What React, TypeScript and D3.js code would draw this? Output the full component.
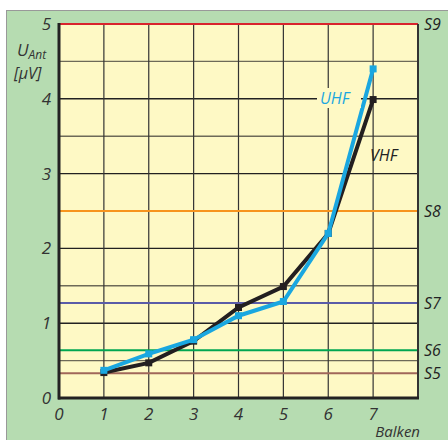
import React from "react";
import * as d3 from "d3";

const xTicks = [0, 1, 2, 3, 4, 5, 6, 7];
const yTicks = [0, 1, 2, 3, 4, 5];
const xVals = [1, 2, 3, 4, 5, 6, 7];
const vhf = [0.34, 0.47, 0.76, 1.21, 1.49, 2.2, 3.99];
const uhf = [0.37, 0.59, 0.78, 1.1, 1.29, 2.2, 4.4];
const sLabels = ["S9", "S8", "S7", "S6", "S5"];
const sValues = [5, 2.5, 1.27, 0.64, 0.33];
const sColors = ["#d9232d", "#f7941d", "#5a5ca8", "#00a651", "#a0675a"];

const W = 448, H = 440;
const L = 59, R = 418, T = 24, B = 398;

export default function App() {
  const x = d3.scaleLinear().domain([0, 8]).range([L, R]);
  const y = d3.scaleLinear().domain([0, 5]).range([B, T]);
  const line = d3.line<number>().x((_, i) => x(xVals[i])).y((d) => y(d));
  const hGrid = d3.range(0.5, 5, 0.5);
  const font = "'Open Sans', 'Liberation Sans', Arial, sans-serif";
  return (
    <svg width={W} height={H} style={{ position: "absolute", left: 0, top: 0 }} fontFamily={font}>
      <rect x={0} y={0} width={W} height={H} fill="#ffffff" />
      <rect x={6.5} y={10.5} width={W} height={H} fill="#b6dcb1" stroke="#999" strokeWidth={1} />
      <rect x={L} y={T} width={R - L} height={B - T} fill="#fef9c5" />
      {hGrid.map((v) => (
        <line key={"h" + v} x1={L} x2={R} y1={y(v)} y2={y(v)}
          stroke={Number.isInteger(v) ? "#222" : "#6d6a58"} strokeWidth={1.4} />
      ))}
      {d3.range(1, 8).map((v) => (
        <line key={"v" + v} x1={x(v)} x2={x(v)} y1={T} y2={B} stroke="#333" strokeWidth={1.2} />
      ))}
      {sValues.map((v, i) => (
        <line key={"s" + i} x1={L} x2={R} y1={y(v)} y2={y(v)} stroke={sColors[i]} strokeWidth={2} />
      ))}
      <line x1={R} x2={R} y1={T} y2={B} stroke="#333" strokeWidth={2} />
      <line x1={L} x2={L} y1={T - 1} y2={B + 1.5} stroke="#222" strokeWidth={3} />
      <line x1={L - 1} x2={R + 1} y1={B} y2={B} stroke="#222" strokeWidth={3} />
      {sLabels.map((s, i) => (
        <text key={"sl" + i} x={424} y={y(sValues[i]) + 6} fontSize={16} fontStyle="italic" fill="#222">{s}</text>
      ))}
      <path d={line(vhf) || ""} fill="none" stroke="#231f20" strokeWidth={4} />
      {vhf.map((v, i) => (
        <rect key={"vm" + i} x={x(xVals[i]) - 3.5} y={y(v) - 3.5} width={7} height={7} fill="#231f20" />
      ))}
      <path d={line(uhf) || ""} fill="none" stroke="#1aa7e0" strokeWidth={4} />
      {uhf.map((v, i) => (
        <rect key={"um" + i} x={x(xVals[i]) - 3.5} y={y(v) - 3.5} width={7} height={7} fill="#1aa7e0" />
      ))}
      <rect x={317} y={88} width={44} height={20} fill="#fef9c5" />
      <text x={320} y={104} fontSize={16} fontStyle="italic" fill="#1aa7e0">UHF</text>
      <text x={370} y={161} fontSize={16} fontStyle="italic" fill="#222">VHF</text>
      {yTicks.map((v) => (
        <text key={"yt" + v} x={51} y={y(v) + 6} fontSize={17} fontStyle="italic" textAnchor="end" fill="#333">{v}</text>
      ))}
      {xTicks.map((v) => (
        <text key={"xt" + v} x={x(v)} y={420} fontSize={17} fontStyle="italic" textAnchor="middle" fill="#333">{v}</text>
      ))}
      <text x={17} y={56} fontSize={17} fontStyle="italic" fill="#333">U<tspan fontSize={12} dy={3}>Ant</tspan></text>
      <text x={14} y={79} fontSize={16} fontStyle="italic" fill="#333">[µV]</text>
      <text x={420} y={437} fontSize={15} fontStyle="italic" textAnchor="end" fill="#333">Balken</text>
    </svg>
  );
}
